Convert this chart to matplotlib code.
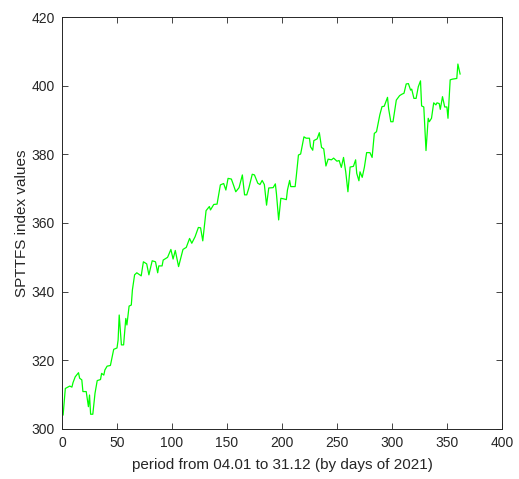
import numpy as np
import matplotlib.pyplot as plt

plt.rcParams['font.family'] = ['Liberation Sans', 'DejaVu Sans']

# day of 2021 and SPTTFS index value
days = [1, 3, 7, 9, 10, 12, 15, 16, 18, 19, 22, 24, 25, 26, 28, 30, 32, 35, 36, 38,
        39, 41, 44, 45, 47, 50, 51, 52, 54, 56, 58, 59, 61, 63, 64, 66, 68, 72, 74, 77,
        79, 82, 85, 87, 88, 91, 92, 96, 99, 101, 103, 106, 110, 113, 116, 118, 121, 124, 126, 128,
        131, 134, 135, 138, 141, 144, 147, 149, 151, 154, 156, 158, 161, 164, 166, 168, 170, 173, 175, 178,
        180, 182, 184, 186, 188, 192, 194, 195, 197, 199, 202, 204, 205, 207, 208, 212, 213, 215, 217, 220,
        222, 225, 226, 228, 229, 232, 234, 236, 238, 240, 242, 245, 247, 250, 252, 254, 256, 258, 260, 262,
        265, 267, 268, 270, 271, 273, 275, 277, 280, 282, 284, 286, 289, 291, 293, 296, 297, 299, 301, 304,
        307, 309, 311, 313, 315, 317, 318, 320, 322, 324, 326, 327, 329, 331, 333, 334, 336, 338, 340, 341,
        343, 344, 346, 348, 350, 351, 353, 355, 359, 360, 362]
values = [304.1, 311.8, 312.5, 312.2, 313.5, 315.2, 316.4, 314.8, 314.3, 310.9, 310.9, 306.5, 309.9, 304.3, 304.3, 310.4, 314.1, 314.4, 316.2, 315.7,
          317.2, 318.3, 318.5, 320.1, 323.2, 323.6, 325.9, 333.2, 324.5, 324.5, 332.2, 330.3, 335.8, 336.1, 340.5, 344.9, 345.5, 344.6, 348.7, 348.1,
          344.9, 349.0, 348.7, 345.5, 347.5, 347.5, 349.2, 350.0, 352.3, 349.5, 352.0, 347.3, 352.3, 352.9, 355.5, 354.1, 356.0, 358.7, 358.6, 354.8,
          363.6, 364.8, 363.8, 365.4, 365.5, 371.1, 371.5, 369.6, 373.0, 372.8, 371.0, 369.1, 370.3, 374.0, 368.2, 368.2, 370.3, 374.2, 374.0, 371.6,
          371.2, 372.4, 371.2, 365.2, 370.2, 370.3, 371.4, 368.5, 360.9, 367.2, 367.0, 366.8, 369.6, 372.4, 370.6, 370.6, 373.5, 379.8, 380.1, 385.1,
          384.7, 384.7, 382.2, 381.2, 384.0, 384.5, 386.3, 382.0, 381.6, 376.6, 378.6, 378.4, 378.9, 378.0, 378.2, 376.2, 379.1, 374.9, 369.1, 376.3,
          376.5, 378.4, 374.5, 372.3, 374.9, 373.3, 376.3, 380.5, 380.5, 379.1, 386.1, 386.6, 391.5, 393.9, 394.0, 396.6, 393.3, 389.5, 389.5, 395.8,
          397.1, 397.5, 397.8, 400.5, 400.6, 398.7, 399.0, 396.3, 396.3, 399.7, 401.4, 394.1, 393.8, 381.1, 390.5, 389.5, 390.5, 395.0, 394.4, 395.0,
          394.8, 393.1, 396.8, 393.8, 393.8, 390.5, 401.7, 401.9, 402.1, 406.3, 403.4]

xticks = [0, 50, 100, 150, 200, 250, 300, 350, 400]
yticks = [300, 320, 340, 360, 380, 400, 420]

fig = plt.figure(figsize=(5.19, 4.79), dpi=100)
ax = fig.add_axes([0.1195, 0.1044, 0.8475, 0.8601])

ax.plot(days, values, color='#00ff00', linewidth=0.9)

ax.set_xlim(0, 400)
ax.set_ylim(300, 420)
ax.set_xticks(xticks)
ax.set_yticks(yticks)
ax.tick_params(direction='in', top=True, right=True, length=4, width=0.6,
               labelsize=10, colors='#262626', pad=5)
for s in ax.spines.values():
    s.set_color('#262626')
    s.set_linewidth(0.7)

ax.set_xlabel('period from 04.01 to 31.12 (by days of 2021)', fontsize=11, color='#262626', labelpad=6)
ax.set_ylabel('SPTTFS index values', fontsize=11, color='#262626', labelpad=2)

fig.savefig('out.png', dpi=100)
